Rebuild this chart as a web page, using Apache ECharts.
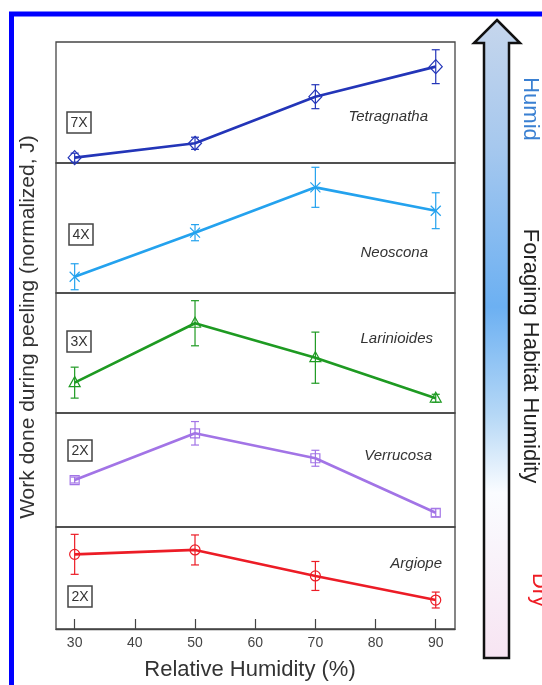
<!DOCTYPE html>
<html>
<head>
<meta charset="utf-8">
<script src="https://cdn.jsdelivr.net/npm/echarts@6/dist/echarts.min.js"></script>
<style>html,body{margin:0;padding:0;background:#fff;}#c{width:542px;height:685px;}</style>
</head>
<body>
<div id="c"></div>
<script>
// ---- data (normalized work, arbitrary units per panel, 0..10) ----
const humidity = [30, 50, 70, 90];
const xTicks = [30, 40, 50, 60, 70, 80, 90];
const speciesNames = ['Tetragnatha', 'Neoscona', 'Larinioides', 'Verrucosa', 'Argiope'];
const scaleFactors = ['7X', '4X', '3X', '2X', '2X'];
const tetragnatha = [0.44, 1.63, 5.48, 7.96];
const tetragnathaErr = [0.37, 0.50, 0.99, 1.40];
const neoscona = [1.25, 4.64, 8.13, 6.33];
const neosconaErr = [1.00, 0.62, 1.54, 1.38];
const larinioides = [2.53, 7.48, 4.61, 1.23];
const larinioidesErr = [1.29, 1.88, 2.13, 0.33];
const verrucosa = [4.12, 8.22, 6.03, 1.25];
const verrucosaErr = [0.26, 1.03, 0.70, 0.35];
const argiope = [7.32, 7.75, 5.20, 2.84];
const argiopeErr = [1.96, 1.47, 1.42, 0.78];

const values = [tetragnatha, neoscona, larinioides, verrucosa, argiope];
const errors = [tetragnathaErr, neosconaErr, larinioidesErr, verrucosaErr, argiopeErr];
const colors = ['#2335b8', '#24a2ee', '#1e9a22', '#a274e6', '#ec1c26'];
const markers = ['diamond', 'cross', 'triangle', 'square', 'circle'];

// layout
const bounds = [42, 163, 293, 413, 527, 629];
const gLeft = 56, gRight = 455;
const xMin = 26.9, xMax = 93.2;
const boxPos = [[67, 112], [69, 224], [67, 331], [68, 440], [68, 586]];
const labelPos = [[428, 117], [428, 253], [433, 339], [432, 456], [442, 564]];

const chart = echarts.init(document.getElementById('c'), null, {renderer: 'canvas'});

const grids = [], xAxes = [], yAxes = [], series = [], graphics = [];
for (let i = 0; i < 5; i++) {
  grids.push({left: gLeft, width: gRight - gLeft, top: bounds[i], height: bounds[i + 1] - bounds[i],
    show: true, borderColor: '#454545', borderWidth: 1.3, backgroundColor: 'transparent'});
  const last = i === 4;
  xAxes.push({type: 'value', gridIndex: i, min: xMin, max: xMax,
    axisLine: {show: last, lineStyle: {color: '#454545', width: 1.3}},
    axisTick: {show: last, inside: true, length: 10, customValues: xTicks, lineStyle: {color: '#454545', width: 1.2}},
    axisLabel: {show: last, customValues: xTicks, margin: 7, color: '#444', fontSize: 14, fontFamily: 'Liberation Sans, Arial'},
    splitLine: {show: false}});
  yAxes.push({type: 'value', gridIndex: i, min: 0, max: 10, show: false});
  const color = colors[i];
  series.push({type: 'line', xAxisIndex: i, yAxisIndex: i, symbol: 'none',
    data: humidity.map((h, k) => [h, values[i][k]]),
    lineStyle: {color: color, width: 2.7}, z: 2, silent: true});
  const shape = markers[i];
  series.push({type: 'custom', xAxisIndex: i, yAxisIndex: i, z: 3, silent: true,
    data: humidity.map((h, k) => [h, values[i][k], errors[i][k]]),
    renderItem: function (params, api) {
      const x = api.value(0), y = api.value(1), e = api.value(2);
      const p = api.coord([x, y]);
      const pt = api.coord([x, y + e]);
      const pb = api.coord([x, y - e]);
      const cw = 4;
      const st = {stroke: color, lineWidth: 1.2, fill: null};
      const ch = [
        {type: 'line', shape: {x1: p[0], y1: pt[1], x2: p[0], y2: pb[1]}, style: st},
        {type: 'line', shape: {x1: p[0] - cw, y1: pt[1], x2: p[0] + cw, y2: pt[1]}, style: st},
        {type: 'line', shape: {x1: p[0] - cw, y1: pb[1], x2: p[0] + cw, y2: pb[1]}, style: st}
      ];
      const ms = {stroke: color, lineWidth: 1.2, fill: 'rgba(255,255,255,0)'};
      if (shape === 'diamond') {
        ch.push({type: 'polygon', shape: {points: [[p[0], p[1] - 7], [p[0] + 6.5, p[1]], [p[0], p[1] + 7], [p[0] - 6.5, p[1]]]}, style: ms});
      } else if (shape === 'cross') {
        ch.push({type: 'line', shape: {x1: p[0] - 5, y1: p[1] - 5, x2: p[0] + 5, y2: p[1] + 5}, style: ms});
        ch.push({type: 'line', shape: {x1: p[0] - 5, y1: p[1] + 5, x2: p[0] + 5, y2: p[1] - 5}, style: ms});
      } else if (shape === 'triangle') {
        ch.push({type: 'polygon', shape: {points: [[p[0], p[1] - 6], [p[0] + 5.5, p[1] + 4], [p[0] - 5.5, p[1] + 4]]}, style: ms});
      } else if (shape === 'square') {
        ch.push({type: 'rect', shape: {x: p[0] - 4.5, y: p[1] - 4.5, width: 9, height: 9}, style: ms});
      } else {
        ch.push({type: 'circle', shape: {cx: p[0], cy: p[1], r: 5}, style: ms});
      }
      return {type: 'group', children: ch};
    }});
  // scale factor box
  graphics.push({type: 'rect', shape: {x: boxPos[i][0], y: boxPos[i][1], width: 24, height: 21},
    style: {fill: '#fff', stroke: '#444', lineWidth: 1.5}, z: 10});
  graphics.push({type: 'text', x: boxPos[i][0] + 12, y: boxPos[i][1] + 11,
    style: {text: scaleFactors[i], fill: '#333', font: '14px "Liberation Sans", Arial', align: 'center', verticalAlign: 'middle'}, z: 11});
  graphics.push({type: 'text', x: labelPos[i][0], y: labelPos[i][1],
    style: {text: speciesNames[i], fill: '#333', font: 'italic 15px "Liberation Sans", Arial', align: 'right', verticalAlign: 'middle'}, z: 11});
}

// blue frame
graphics.push({type: 'rect', shape: {x: 11.5, y: 14, width: 700, height: 800},
  style: {fill: null, stroke: '#0000ff', lineWidth: 5}, z: 20});
// arrow
graphics.push({type: 'polygon', z: 5,
  shape: {points: [[497, 20], [520, 43], [509, 43], [509, 658], [484, 658], [484, 43], [474, 43]]},
  style: {stroke: '#111', lineWidth: 2.5,
    fill: {type: 'linear', x: 0, y: 0, x2: 0, y2: 1, colorStops: [
      {offset: 0, color: '#c6d6ec'}, {offset: 0.2, color: '#a6c8ee'}, {offset: 0.45, color: '#6cb0f2'},
      {offset: 0.62, color: '#b6d8f6'}, {offset: 0.74, color: '#fafcff'}, {offset: 1, color: '#f7e4f2'}]}}});
// right-side texts
graphics.push({type: 'text', x: 530, y: 109, rotation: -Math.PI / 2,
  style: {text: 'Humid', fill: '#3a80d2', font: '22px "Liberation Sans", Arial', align: 'center', verticalAlign: 'middle'}, z: 6});
graphics.push({type: 'text', x: 530, y: 356, rotation: -Math.PI / 2,
  style: {text: 'Foraging Habitat Humidity', fill: '#222', font: '22px "Liberation Sans", Arial', align: 'center', verticalAlign: 'middle'}, z: 6});
graphics.push({type: 'text', x: 539, y: 590, rotation: -Math.PI / 2,
  style: {text: 'Dry', fill: '#ee1c24', font: '22px "Liberation Sans", Arial', align: 'center', verticalAlign: 'middle'}, z: 6});
// axis titles
graphics.push({type: 'text', x: 28, y: 327, rotation: Math.PI / 2,
  style: {text: 'Work done during peeling (normalized, J)', fill: '#333', font: '21px "Liberation Sans", Arial', align: 'center', verticalAlign: 'middle'}, z: 6});
graphics.push({type: 'text', x: 250, y: 670,
  style: {text: 'Relative Humidity (%)', fill: '#333', font: '22px "Liberation Sans", Arial', align: 'center', verticalAlign: 'middle'}, z: 6});

chart.setOption({
  animation: false,
  backgroundColor: '#fff',
  grid: grids, xAxis: xAxes, yAxis: yAxes, series: series, graphic: graphics
});
</script>
</body>
</html>
